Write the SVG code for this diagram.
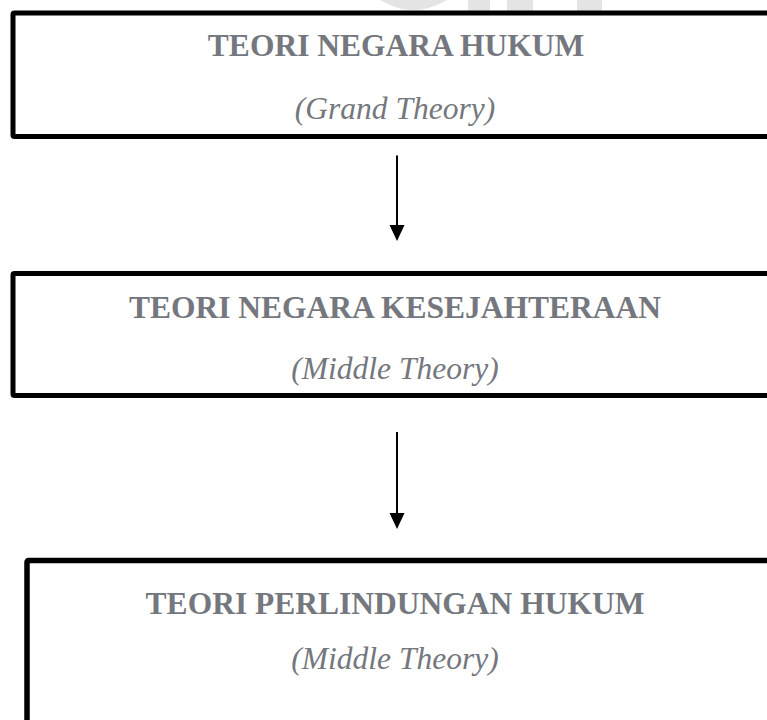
<svg xmlns="http://www.w3.org/2000/svg" width="767" height="720" viewBox="0 0 767 720">
<style>
.box{fill:#ffffff;stroke:#000000;stroke-width:5;}
.t{font-family:"Liberation Serif","Times New Roman",serif;font-size:31.5px;font-weight:bold;fill:#74777d;text-anchor:middle;}
.s{font-family:"Liberation Serif","Times New Roman",serif;font-size:31.5px;font-style:italic;fill:#74777d;text-anchor:middle;}
.wm{fill:#e4e4e4;}
.conn line{stroke:#000000;stroke-width:2;}
.conn polygon{fill:#000000;}
</style>
<rect width="767" height="720" fill="#ffffff"/>
<g id="watermark">
<path class="wm" d="M380 0 Q413 20 447 0 Z"/>
<rect class="wm" x="468" y="0" width="22" height="12"/>
<rect class="wm" x="507" y="0" width="26" height="12"/>
<rect class="wm" x="577" y="0" width="25" height="12"/>
</g>
<g id="node1">
<rect class="box" x="13" y="13" width="800" height="123.5" rx="1.5"/>
<text class="t" x="396" y="56">TEORI NEGARA HUKUM</text>
<text class="s" x="395" y="119">(Grand Theory)</text>
</g>
<g id="node2">
<rect class="box" x="13" y="273.5" width="800" height="122" rx="1.5"/>
<text class="t" x="395" y="318">TEORI NEGARA KESEJAHTERAAN</text>
<text class="s" x="395" y="379">(Middle Theory)</text>
</g>
<g id="node3">
<rect class="box" x="27" y="560.5" width="800" height="200" rx="1.5" style="stroke-width:5.5"/>
<text class="t" x="395" y="614">TEORI PERLINDUNGAN HUKUM</text>
<text class="s" x="395" y="669">(Middle Theory)</text>
</g>
<g id="connectors" class="conn">
<line x1="397" y1="155.5" x2="397" y2="227"/>
<polygon points="389.5,225 404.5,225 397,241"/>
<line x1="397" y1="432" x2="397" y2="515"/>
<polygon points="389.5,513 404.5,513 397,529"/>
</g>
</svg>
